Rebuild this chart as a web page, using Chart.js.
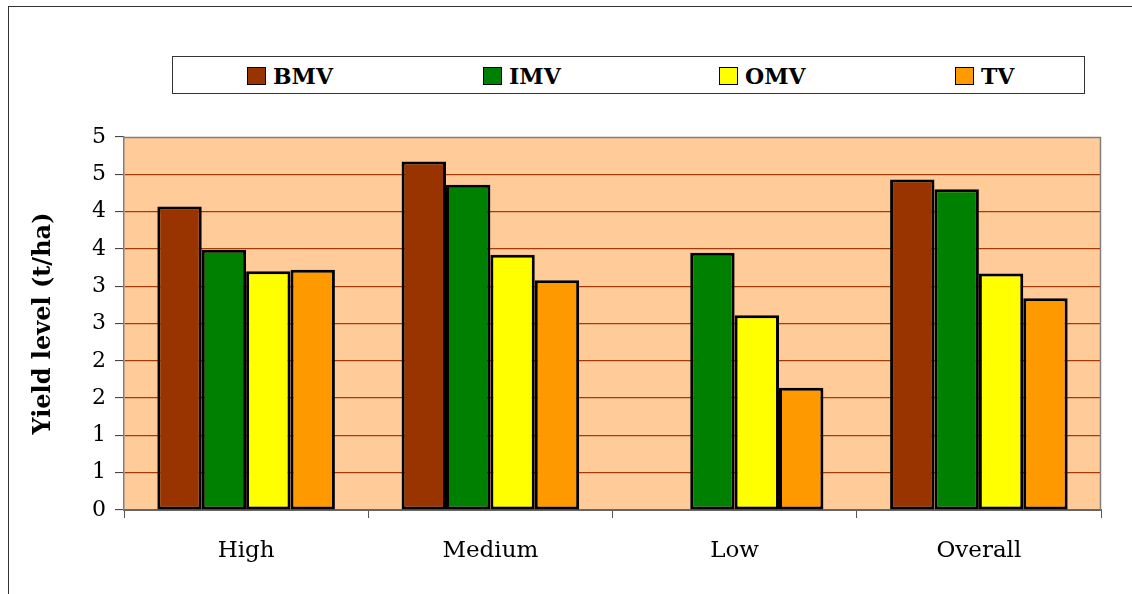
<!DOCTYPE html>
<html>
<head>
<meta charset="utf-8">
<script src="https://cdn.jsdelivr.net/npm/chart.js@4.4.1/dist/chart.umd.min.js"></script>
<style>
  html, body { margin: 0; padding: 0; background: #fff; overflow: hidden; }
  #wrap { position: relative; width: 1132px; height: 594px; }
  #frame { position: absolute; left: 8px; top: 6px; width: 2000px; height: 2000px;
           border: 1.5px solid #333; box-sizing: border-box; }
  #chart { position: absolute; left: 0; top: 0; }
  #legend { position: absolute; left: 172px; top: 56px; width: 913px; height: 38px;
            border: 1px solid #333; box-sizing: border-box; background: #fff; }
  .item { position: absolute; top: 9px; display: flex; align-items: center;
          font: bold 22px "DejaVu Serif", serif; color: #000; line-height: 20px; }
  .sw { width: 17px; height: 16px; border: 1.5px solid #000; margin-right: 7px; }
</style>
</head>
<body>
<div id="wrap">
  <div id="frame"></div>
  <canvas id="chart" width="1132" height="594"></canvas>
  <div id="legend"></div>
</div>
<script>
// Yield levels (t/ha) by yield class
const categories = ['High', 'Medium', 'Low', 'Overall'];
const seriesNames = ['BMV', 'IMV', 'OMV', 'TV'];
const bmv = [4.07, 4.67, null, 4.43];
const imv = [3.49, 4.36, 3.45, 4.30];
const omv = [3.20, 3.42, 2.61, 3.17];
const tv  = [3.22, 3.08, 1.64, 2.84];
const seriesColors = ['#993300', '#008000', '#FFFF00', '#FF9900'];
const yTickLabels = ['0', '1', '1', '2', '2', '3', '3', '4', '4', '5', '5'];

const seriesValues = [bmv, imv, omv, tv];

// Peach plot background with a grey frame on top and right
const plotFrame = {
  id: 'plotFrame',
  beforeDraw(chart) {
    const { ctx, chartArea: a } = chart;
    ctx.save();
    ctx.fillStyle = '#FFCC99';
    ctx.fillRect(a.left, a.top, a.right - a.left, a.bottom - a.top);
    ctx.restore();
  },
  afterDraw(chart) {
    const { ctx, chartArea: a } = chart;
    ctx.save();
    ctx.strokeStyle = '#808080';
    ctx.lineWidth = 1.5;
    ctx.beginPath();
    ctx.moveTo(a.left, a.top + 0.5);
    ctx.lineTo(a.right - 0.5, a.top + 0.5);
    ctx.lineTo(a.right - 0.5, a.bottom);
    ctx.stroke();
    ctx.restore();
  }
};

const chart = new Chart(document.getElementById('chart'), {
  type: 'bar',
  data: {
    labels: categories,
    datasets: seriesNames.map((name, i) => ({
      label: name,
      data: seriesValues[i],
      backgroundColor: seriesColors[i],
      borderColor: '#000',
      borderWidth: 3,
      borderSkipped: false,
      categoryPercentage: 0.727,
      barPercentage: 1.0
    }))
  },
  options: {
    responsive: false,
    animation: false,
    devicePixelRatio: 1,
    layout: { padding: { top: 137, right: 31, left: 10, bottom: 0 } },
    plugins: { legend: { display: false }, tooltip: { enabled: false } },
    scales: {
      x: {
        grid: { offset: true, drawOnChartArea: false, tickLength: 8, tickColor: '#555', tickWidth: 1 },
        border: { display: true, color: '#666', width: 2 },
        ticks: { font: { family: 'DejaVu Serif', size: 23 }, color: '#000', padding: 19 },
        afterFit(s) { s.height = 84; }
      },
      y: {
        min: 0, max: 5,
        ticks: {
          stepSize: 0.5,
          font: { family: 'DejaVu Serif', size: 22 },
          color: '#000',
          padding: 9,
          callback: (v, i) => yTickLabels[i]
        },
        grid: {
          color: (c) => (c.tick && (c.tick.value === 0 || c.tick.value === 5)) ? 'rgba(0,0,0,0)' : '#A33A0A',
          lineWidth: 1.2,
          tickLength: 9,
          tickColor: '#333',
          tickWidth: 1
        },
        border: { display: true, color: '#808080', width: 1.5 },
        title: {
          display: true,
          text: 'Yield level (t/ha)',
          font: { family: 'DejaVu Serif', size: 24, weight: 'bold' },
          color: '#000',
          padding: { top: 19, bottom: 0 }
        },
        afterFit(s) { s.width = 114; }
      }
    }
  },
  plugins: [plotFrame]
});

// Legend row built from the series
const legend = document.getElementById('legend');
seriesNames.forEach((name, i) => {
  const it = document.createElement('div');
  it.className = 'item';
  it.style.left = (74 + i * 236) + 'px';
  const sw = document.createElement('div');
  sw.className = 'sw';
  sw.style.background = seriesColors[i];
  const tx = document.createElement('span');
  tx.textContent = name;
  it.appendChild(sw);
  it.appendChild(tx);
  legend.appendChild(it);
});
</script>
</body>
</html>
